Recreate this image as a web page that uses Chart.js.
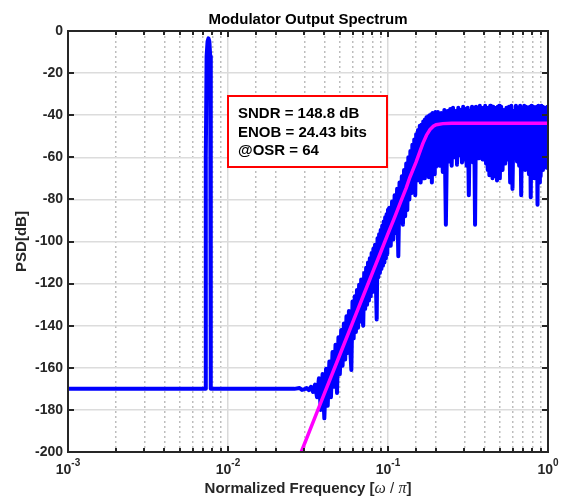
<!DOCTYPE html>
<html>
<head>
<meta charset="utf-8">
<script src="https://cdn.jsdelivr.net/npm/chart.js@4"></script>
<style>
  body { margin: 0; background: #fff; }
  canvas { display: block; }
</style>
</head>
<body>
<canvas id="chart" width="566" height="498"></canvas>
<script>
// floor + input tone
const toneFreq = [0.001, 0.0072, 0.00726, 0.00727, 0.00735, 0.00745, 0.00755, 0.00765, 0.00774, 0.0078, 0.00781, 0.0079, 0.026, 0.028, 0.029];
const tonePsd = [-170, -170, -170, -60, -12, -5, -3.5, -5, -12, -60, -170, -170, -170, -169.6, -170.5];

// shaped quantization noise
const noiseFreq = [
  0.030, 0.031, 0.032, 0.033, 0.034, 0.035, 0.036, 0.037, 0.038, 0.039,
  0.040, 0.041, 0.042, 0.043, 0.044, 0.045, 0.046, 0.047, 0.048, 0.049,
  0.050, 0.051, 0.052, 0.053, 0.054, 0.055, 0.056, 0.057, 0.058, 0.059,
  0.060, 0.061, 0.062, 0.063, 0.064, 0.065, 0.066, 0.067, 0.068, 0.069,
  0.070, 0.071, 0.072, 0.073, 0.074, 0.075, 0.076, 0.077, 0.078, 0.079,
  0.080, 0.081, 0.082, 0.083, 0.084, 0.085, 0.086, 0.087, 0.088, 0.089,
  0.090, 0.091, 0.092, 0.093, 0.094, 0.095, 0.096, 0.097, 0.098, 0.099,
  0.100,
  0.102, 0.104, 0.106, 0.108, 0.110, 0.112, 0.114, 0.116, 0.118, 0.120,
  0.122, 0.124, 0.126, 0.128, 0.130, 0.132, 0.134, 0.136, 0.138, 0.140,
  0.142, 0.144, 0.146, 0.148, 0.150, 0.152, 0.154, 0.156, 0.158, 0.160,
  0.162, 0.164, 0.166, 0.168, 0.170, 0.172, 0.174, 0.176, 0.178, 0.180,
  0.182, 0.184, 0.186, 0.188, 0.190, 0.192, 0.194, 0.196, 0.198, 0.200,
  0.205, 0.210, 0.215, 0.220, 0.225, 0.230, 0.235, 0.240, 0.245, 0.250,
  0.255, 0.260, 0.265, 0.270, 0.275, 0.280, 0.285, 0.290, 0.295, 0.300,
  0.305, 0.310, 0.315, 0.320, 0.325, 0.330, 0.335, 0.340, 0.345, 0.350,
  0.355, 0.360, 0.365, 0.370, 0.375, 0.380, 0.385, 0.390, 0.395, 0.400,
  0.405, 0.410, 0.415, 0.420, 0.425, 0.430, 0.435, 0.440, 0.445, 0.450,
  0.455, 0.460, 0.465, 0.470, 0.475, 0.480, 0.485, 0.490, 0.495, 0.500,
  0.51, 0.52, 0.53, 0.54, 0.55, 0.56, 0.57, 0.58, 0.59, 0.60,
  0.61, 0.62, 0.63, 0.64, 0.65, 0.66, 0.67, 0.68, 0.69, 0.70,
  0.71, 0.72, 0.73, 0.74, 0.75, 0.76, 0.77, 0.78, 0.79, 0.80,
  0.81, 0.82, 0.83, 0.84, 0.85, 0.86, 0.87, 0.88, 0.89, 0.90,
  0.91, 0.92, 0.93, 0.94, 0.95, 0.96, 0.97, 0.98, 0.99, 1.00
];
const noisePsd = [
  -170.2, -169.6, -170.6, -169.0, -171.5, -168.0, -174.0, -165.0, -180.0, -163.0,
  -184.0, -160.5, -178.0, -157.0, -174.0, -152.5, -169.0, -149.0, -172.0, -145.5,
  -163.0, -142.0, -159.0, -139.0, -156.0, -135.5, -153.0, -133.0, -150.0, -161.0,
  -128.5, -146.0, -126.0, -143.0, -123.0, -141.0, -120.5, -138.0, -118.0, -135.5,
  -140.0, -115.0, -132.0, -112.5, -130.0, -110.0, -128.0, -108.0, -126.0, -105.5,
  -124.0, -103.5, -121.5, -101.5, -119.5, -137.0, -98.5, -117.0, -96.5, -115.0,
  -94.5, -113.0, -92.5, -111.5, -90.5, -110.0, -88.5, -108.0, -87.0, -106.0,
  -85.0,
  -84.0, -102.0, -81.0, -99.0, -78.0, -96.0, -75.0, -107.0, -72.0, -91.0,
  -69.0, -92.0, -66.0, -88.0, -63.0, -85.0, -60.0, -80.0, -57.0, -77.0,
  -54.0, -75.0, -51.5, -78.0, -49.0, -71.0, -47.0, -70.0, -45.0, -72.0,
  -44.5, -67.5, -43.0, -70.0, -42.0, -68.5, -41.0, -66.0, -40.5, -69.5,
  -40.0, -67.0, -39.5, -72.0, -39.0, -66.0, -39.5, -68.0, -38.5, -64.5,
  -38.5, -64.0, -39.0, -67.0, -37.5, -92.0, -38.0, -62.0, -37.0, -64.0,
  -36.5, -60.0, -38.0, -63.5, -36.5, -59.0, -37.5, -62.5, -36.0, -61.0,
  -37.0, -64.0, -36.5, -78.0, -38.0, -60.0, -36.0, -62.5, -36.5, -92.0,
  -36.0, -58.0, -37.5, -60.5, -35.5, -58.5, -36.5, -61.0, -37.5, -59.5,
  -35.5, -63.0, -36.5, -66.0, -38.0, -68.5, -35.5, -67.0, -36.5, -70.0,
  -36.0, -66.5, -37.5, -69.0, -36.5, -71.0, -36.0, -67.5, -35.5, -70.0,
  -36.0, -66.0, -37.5, -63.0, -36.5, -61.0, -36.0, -72.0, -35.5, -75.0,
  -38.0, -60.0, -35.5, -62.0, -36.5, -64.0, -35.5, -78.0, -37.0, -63.0,
  -35.5, -66.0, -36.0, -64.5, -37.5, -68.0, -36.0, -79.0, -35.5, -66.0,
  -36.0, -70.0, -37.0, -68.0, -36.0, -82.5, -35.5, -72.0, -36.5, -69.0,
  -35.5, -66.0, -36.0, -64.0, -37.0, -63.0, -36.5, -65.0, -36.0, -62.0
];

// ideal NTF curve
const ntfFreq = [0.0287, 0.035, 0.04, 0.05, 0.06, 0.07, 0.08, 0.09, 0.1, 0.11, 0.12, 0.13, 0.137, 0.15, 0.158, 0.165, 0.174, 0.183, 0.192, 0.2, 0.22, 0.25, 0.3, 1];
const ntfPsd = [-200, -183.4, -172.3, -153.8, -138.7, -125.9, -114.8, -105.1, -96.3, -88.5, -81.2, -74.5, -69.5, -62.2, -57.4, -53.5, -49.5, -46.8, -45.2, -44.5, -44.0, -43.8, -43.8, -43.8];

const yTicks = [0, -20, -40, -60, -80, -100, -120, -140, -160, -180, -200];
const decadeTicks = [0.001, 0.01, 0.1, 1];
const decadeExp = ['-3', '-2', '-1', '0'];

const infoLines = ['SNDR = 148.8 dB', 'ENOB = 24.43 bits', '@OSR = 64'];

const SANS = '"Liberation Sans", Arial, sans-serif';
const SERIF = '"Liberation Serif", "Times New Roman", serif';
const AXIS = '#262626';

function isDecade(v) {
  if (!v) return false;
  const l = Math.log10(v);
  return Math.abs(l - Math.round(l)) < 1e-6;
}

const bluePts = toneFreq.map((f, i) => ({ x: f, y: tonePsd[i] }))
  .concat(noiseFreq.map((f, i) => ({ x: f, y: noisePsd[i] })));
const ntfPts = ntfFreq.map((f, i) => ({ x: f, y: ntfPsd[i] }));

const overlay = {
  id: 'overlay',
  afterDatasetsDraw(chart) {
    const { ctx } = chart;
    // info box
    const bx = 228, by = 96, bw = 159, bh = 71;
    ctx.save();
    ctx.fillStyle = '#fff';
    ctx.fillRect(bx, by, bw, bh);
    ctx.strokeStyle = '#ff0000';
    ctx.lineWidth = 2;
    ctx.strokeRect(bx, by, bw, bh);
    ctx.fillStyle = '#000';
    ctx.font = 'bold 15px ' + SANS;
    ctx.textAlign = 'left';
    ctx.textBaseline = 'alphabetic';
    infoLines.forEach((t, i) => ctx.fillText(t, bx + 10, by + 22 + i * 18.5));
    ctx.restore();
  },
  afterDraw(chart) {
    const { ctx, chartArea: a, scales: { x, y } } = chart;
    ctx.save();
    // inward tick marks
    ctx.strokeStyle = AXIS;
    ctx.lineWidth = 2;
    x.ticks.forEach(t => {
      const px = Math.round(x.getPixelForValue(t.value));
      const len = isDecade(t.value) ? 6 : 4;
      ctx.beginPath();
      ctx.moveTo(px, a.bottom); ctx.lineTo(px, a.bottom - len);
      ctx.moveTo(px, a.top); ctx.lineTo(px, a.top + len);
      ctx.stroke();
    });
    y.ticks.forEach(t => {
      const py = Math.round(y.getPixelForValue(t.value));
      ctx.beginPath();
      ctx.moveTo(a.left, py); ctx.lineTo(a.left + 6, py);
      ctx.moveTo(a.right, py); ctx.lineTo(a.right - 6, py);
      ctx.stroke();
    });
    // axes box
    ctx.lineWidth = 2;
    ctx.strokeRect(a.left, a.top, a.right - a.left, a.bottom - a.top);

    // title
    ctx.fillStyle = '#000';
    ctx.font = 'bold 15px ' + SANS;
    ctx.textAlign = 'center';
    ctx.textBaseline = 'alphabetic';
    ctx.fillText('Modulator Output Spectrum', (a.left + a.right) / 2, 24);

    // x tick labels 10^n
    ctx.fillStyle = AXIS;
    ctx.textAlign = 'left';
    decadeTicks.forEach((v, i) => {
      const px = x.getPixelForValue(v);
      ctx.font = 'bold 14px ' + SANS;
      const w1 = ctx.measureText('10').width;
      ctx.font = 'bold 10px ' + SANS;
      const w2 = ctx.measureText(decadeExp[i]).width;
      const x0 = px - (w1 + w2) / 2;
      ctx.font = 'bold 14px ' + SANS;
      ctx.fillText('10', x0, 474);
      ctx.font = 'bold 10px ' + SANS;
      ctx.fillText(decadeExp[i], x0 + w1, 466);
    });

    // x title with italic symbols
    const parts = [
      ['Normalized Frequency [', 'bold 15px ' + SANS],
      ['\u03c9', 'italic 16px ' + SERIF],
      [' / ', '15px ' + SANS],
      ['\u03c0', 'italic 16px ' + SERIF],
      [']', 'bold 15px ' + SANS]
    ];
    let total = 0;
    parts.forEach(p => { ctx.font = p[1]; total += ctx.measureText(p[0]).width; });
    let cx = (a.left + a.right) / 2 - total / 2;
    parts.forEach(p => {
      ctx.font = p[1];
      ctx.fillText(p[0], cx, 493);
      cx += ctx.measureText(p[0]).width;
    });

    // y title
    ctx.translate(22, (a.top + a.bottom) / 2);
    ctx.rotate(-Math.PI / 2);
    ctx.textAlign = 'center';
    ctx.textBaseline = 'middle';
    ctx.font = 'bold 15px ' + SANS;
    ctx.fillText('PSD[dB]', 0, 0);
    ctx.restore();
  }
};

new Chart(document.getElementById('chart'), {
  type: 'line',
  data: {
    datasets: [
      {
        label: 'NTF',
        data: ntfPts,
        borderColor: '#ff00ff',
        borderWidth: 3.5,
        pointRadius: 0,
        tension: 0,
        order: 0
      },
      {
        label: 'PSD',
        data: bluePts,
        borderColor: '#0000ff',
        borderWidth: 4,
        borderJoinStyle: 'round',
        pointRadius: 0,
        tension: 0,
        order: 1
      }
    ]
  },
  options: {
    responsive: false,
    devicePixelRatio: 1,
    animation: false,
    layout: { padding: { left: 0, right: 18, top: 31, bottom: 0 } },
    plugins: { legend: { display: false }, tooltip: { enabled: false } },
    scales: {
      x: {
        type: 'logarithmic',
        min: 0.001,
        max: 1,
        afterFit: s => { s.height = 46; },
        ticks: { display: false, autoSkip: false },
        grid: {
          drawTicks: false,
          lineWidth: 1.5,
          color: c => isDecade(c.tick && c.tick.value) ? '#dadada' : '#bdbdbd'
        },
        border: {
          display: false,
          dash: c => isDecade(c.tick && c.tick.value) ? [] : [2, 3]
        }
      },
      y: {
        min: -200,
        max: 0,
        afterFit: s => { s.width = 68; },
        afterBuildTicks: s => { s.ticks = yTicks.map(v => ({ value: v })); },
        ticks: {
          padding: 5,
          color: AXIS,
          font: { family: SANS, size: 14, weight: 'bold' }
        },
        grid: { drawTicks: false, lineWidth: 1.5, color: '#dcdcdc' },
        border: { display: false }
      }
    }
  },
  plugins: [overlay]
});
</script>
</body>
</html>
